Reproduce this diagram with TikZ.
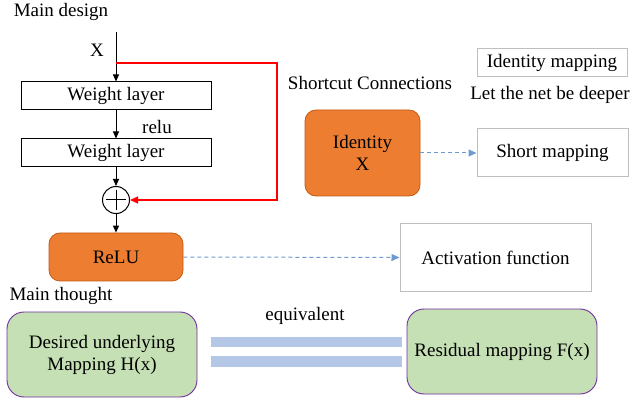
\documentclass[tikz,border=0pt]{standalone}
\usepackage{fontspec}
\setmainfont{Liberation Serif}
\usetikzlibrary{arrows.meta,calc}
\definecolor{orfill}{HTML}{ED7D31}
\definecolor{ordraw}{HTML}{C55A11}
\definecolor{grfill}{HTML}{C5E0B4}
\definecolor{purp}{HTML}{7030A0}
\definecolor{barc}{HTML}{B4C7E7}
\definecolor{dashc}{HTML}{6E9AD0}
\definecolor{boxgray}{HTML}{BFBFBF}
\definecolor{redl}{HTML}{FF0000}
\begin{document}
\begin{tikzpicture}[x=1pt,y=-1pt,
  every node/.style={font=\fontsize{19}{22}\selectfont, inner sep=0pt},
  lbl/.style={},
  wbox/.style={draw=black, line width=1pt, fill=white, minimum width=190pt, minimum height=28pt},
  orbox/.style={draw=ordraw, line width=0.8pt, fill=orfill, rounded corners=11pt, align=center},
  grbox/.style={draw=purp, line width=0.9pt, fill=grfill, rounded corners=17pt, align=center, minimum width=190pt, minimum height=85pt},
  gbox/.style={draw=boxgray, line width=1pt, fill=white},
  barbox/.style={fill=barc, minimum width=191pt, minimum height=10.5pt},
  blk/.style={line width=1pt, -{Triangle[length=7pt,width=6pt]}},
  dsh/.style={draw=dashc, line width=1pt, dashed, dash pattern=on 4pt off 3pt, -{Triangle[length=8pt,width=7pt]}}
]
\useasboundingbox (0,0) rectangle (630,401);

% main design
\node[lbl] (md) at (61,12) {Main design};
\coordinate (top) at (116,32);
\coordinate (split) at (116,63);
\node[lbl] (xl) at (97,50) {X};
\node[wbox] (wl1) at (116,96) {Weight layer};
\node[wbox] (wl2) at (116,153) {Weight layer};
\node[lbl] (relul) at (157,127) {relu};
\node[draw, circle, line width=1pt, minimum size=27pt, fill=white] (plus) at (116,200) {};
\draw[line width=1pt] ($(plus.center)+(-10,0)$) -- ($(plus.center)+(10,0)$);
\draw[line width=1pt] ($(plus.center)+(0,-10)$) -- ($(plus.center)+(0,10)$);
\node[orbox, minimum width=134pt, minimum height=48pt] (relu) at (116,257) {ReLU};

\draw[line width=1pt] (top) -- (split);
\draw[blk] (split) -- (wl1.north);
\draw[blk] (wl1.south) -- (wl2.north);
\draw[blk] (wl2.south) -- (plus.north);
\draw[blk] (plus.south) -- (relu.north);
\coordinate (rtop) at (277,63);
\draw[redl, line width=1.2pt, -{Triangle[length=8pt,width=7pt]}] (split) -- (rtop) |- (plus.east);

% shortcut
\node[lbl] (sc) at (370,83) {Shortcut Connections};
\node[orbox, minimum width=115pt, minimum height=86pt] (idx) at (362.5,153) {Identity\\X};
\node[gbox, minimum width=151pt, minimum height=48pt] (sm) at (552.5,153) {Short mapping};
\node[gbox, minimum width=150pt, minimum height=28pt] (im) at (552,63) {Identity mapping};
\node[lbl] (deep) at (550,95) {Let the net be deeper};
\draw[dsh] (idx.east) -- (sm.west);

% activation
\node[gbox, minimum width=191pt, minimum height=67pt] (act) at (495.5,257.5) {Activation function};
\draw[dsh] (relu.east) -- (act.west);

% main thought
\node[lbl] (mt) at (61,296) {Main thought};
\node[grbox] (des) at (102,354.5) {Desired underlying\\Mapping H(x)};
\node[lbl] (eq) at (305,316) {equivalent};
\node[barbox] (bar1) at (306.5,342) {};
\node[barbox] (bar2) at (306.5,361.5) {};
\node[grbox] (res) at (502,351.5) {Residual mapping F(x)};
\end{tikzpicture}
\end{document}
